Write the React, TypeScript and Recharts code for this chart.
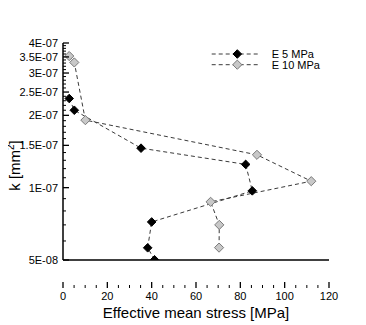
import React from 'react';
import { LineChart, Line, XAxis, YAxis, Legend } from 'recharts';

const seriesNames = ['E 5 MPa', 'E 10 MPa'];
const e5Stress = [2.8, 5.1, 35.2, 82.4, 85.4, 40.0, 38.2, 41.3];
const e5K = [2.35e-7, 2.1e-7, 1.46e-7, 1.25e-7, 9.7e-8, 7.2e-8, 5.62e-8, 5.01e-8];
const e10Stress = [2.8, 5.1, 10.1, 87.5, 112.0, 66.6, 70.5, 70.4];
const e10K = [3.53e-7, 3.32e-7, 1.91e-7, 1.37e-7, 1.064e-7, 8.73e-8, 7.0e-8, 5.63e-8];

const xMajorTicks = [0, 20, 40, 60, 80, 100, 120];
const xMinorTicks = [5, 10, 15, 25, 30, 35, 45, 50, 55, 65, 70, 75, 85, 90, 95, 105, 110, 115];
const yMajorTicks = [5e-8, 1e-7, 1.5e-7, 2e-7, 2.5e-7, 3e-7, 3.5e-7, 4e-7];
const yMajorLabels = ['5E-08', '1E-07', '1.5E-07', '2E-07', '2.5E-07', '3E-07', '3.5E-07', '4E-07'];
const yMinorTicks = [
  6e-8, 7e-8, 8e-8, 9e-8,
  1.1e-7, 1.2e-7, 1.3e-7, 1.4e-7,
  1.6e-7, 1.7e-7, 1.8e-7, 1.9e-7,
  2.1e-7, 2.2e-7, 2.3e-7, 2.4e-7,
  2.6e-7, 2.7e-7, 2.8e-7, 2.9e-7,
  3.1e-7, 3.2e-7, 3.3e-7, 3.4e-7,
  3.6e-7, 3.7e-7, 3.8e-7, 3.9e-7,
];

const e5Data = e5Stress.map((x, i) => ({ x, k: e5K[i] }));
const e10Data = e10Stress.map((x, i) => ({ x, k: e10K[i] }));

const W = 366;
const H = 325;
const MARGIN = { top: 43, right: 37, left: 0, bottom: 0 };
const Y_AXIS_W = 63;
const X_AXIS_H = 37;
const PLOT_LEFT = MARGIN.left + Y_AXIS_W;
const PLOT_BOTTOM = H - MARGIN.bottom - X_AXIS_H;
const PLOT_RIGHT = W - MARGIN.right;
const FONT = 'Liberation Sans, Arial, Helvetica, sans-serif';

const BLACK_FILL = '#000000';
const GRAY_FILL = '#c8c8c8';
const GRAY_STROKE = '#7a7a7a';
const LINE_COLOR = '#3a3a3a';

const diamond = (cx: number, cy: number, r: number, fill: string, stroke: string, key?: any) => (
  <polygon
    key={key}
    points={`${cx},${cy - r} ${cx + r},${cy} ${cx},${cy + r} ${cx - r},${cy}`}
    fill={fill}
    stroke={stroke}
    strokeWidth={1}
  />
);

const BlackDot = (props: any) => {
  const { cx, cy, index } = props;
  if (cx == null || cy == null) return null;
  return diamond(cx, cy, 4.3, BLACK_FILL, BLACK_FILL, `b${index}`);
};

const GrayDot = (props: any) => {
  const { cx, cy, index } = props;
  if (cx == null || cy == null) return null;
  return diamond(cx, cy, 4.6, GRAY_FILL, GRAY_STROKE, `g${index}`);
};

const YTick = (props: any) => {
  const { y, payload } = props;
  const idx = yMajorTicks.findIndex((t) => Math.abs(t - payload.value) / t < 1e-6);
  if (idx >= 0) {
    return (
      <g>
        <line x1={PLOT_LEFT} x2={PLOT_LEFT + 6} y1={y} y2={y} stroke="#000" strokeWidth={1.3} />
        <text x={PLOT_LEFT - 5} y={y + 4} textAnchor="end" fontSize={11} fontFamily={FONT} fill="#000">
          {yMajorLabels[idx]}
        </text>
      </g>
    );
  }
  return <line x1={PLOT_LEFT} x2={PLOT_LEFT + 3} y1={y} y2={y} stroke="#000" strokeWidth={1} />;
};

const XTick = (props: any) => {
  const { x, payload } = props;
  const isMajor = xMajorTicks.includes(payload.value);
  if (isMajor) {
    return (
      <g>
        <line x1={x} x2={x} y1={PLOT_BOTTOM} y2={PLOT_BOTTOM - 6} stroke="#000" strokeWidth={1.3} />
        <text x={x} y={PLOT_BOTTOM + 12} textAnchor="middle" fontSize={11} fontFamily={FONT} fill="#000">
          {payload.value}
        </text>
      </g>
    );
  }
  return <line x1={x} x2={x} y1={PLOT_BOTTOM} y2={PLOT_BOTTOM - 3} stroke="#000" strokeWidth={1} />;
};

const LegendContent = () => (
  <svg width={140} height={28} style={{ display: 'block' }}>
    <line x1={3.7} x2={52} y1={8} y2={8} stroke={LINE_COLOR} strokeDasharray="4 3" strokeWidth={1} />
    {diamond(29.3, 8, 4.3, BLACK_FILL, BLACK_FILL)}
    <text x={63.7} y={12} fontSize={11} fontFamily={FONT} fill="#000">{seriesNames[0]}</text>
    <line x1={3.7} x2={52} y1={18.7} y2={18.7} stroke={LINE_COLOR} strokeDasharray="4 3" strokeWidth={1} />
    {diamond(29.3, 18.7, 4.6, GRAY_FILL, GRAY_STROKE)}
    <text x={63.7} y={22.7} fontSize={11} fontFamily={FONT} fill="#000">{seriesNames[1]}</text>
  </svg>
);

const XLabel = () => (
  <text x={(PLOT_LEFT + PLOT_RIGHT) / 2} y={H - 7} textAnchor="middle" fontSize={15} fontFamily={FONT} fill="#000">
    Effective mean stress [MPa]
  </text>
);

const YLabel = () => {
  const cx = 20;
  const cy = (MARGIN.top + PLOT_BOTTOM) / 2;
  return (
    <text
      x={cx}
      y={cy}
      transform={`rotate(-90, ${cx}, ${cy})`}
      textAnchor="middle"
      fontSize={15}
      fontFamily={FONT}
      fill="#000"
    >
      k [mm
      <tspan fontSize={10} dy={-6}>2</tspan>
      <tspan dy={6}>]</tspan>
    </text>
  );
};

export default function App() {
  return (
    <div style={{ width: W, height: H, position: 'relative', left: -8, top: -8 }}>
      <LineChart width={W} height={H} margin={MARGIN}>
        <XAxis
          type="number"
          dataKey="x"
          domain={[0, 120]}
          ticks={[...xMajorTicks, ...xMinorTicks].sort((a, b) => a - b)}
          interval={0}
          tick={<XTick />}
          tickLine={false}
          tickSize={0}
          height={X_AXIS_H}
          axisLine={{ stroke: '#000', strokeWidth: 1.5 }}
          allowDataOverflow
          label={{ content: () => <XLabel /> }}
        />
        <YAxis
          type="number"
          dataKey="k"
          scale="log"
          domain={[5e-8, 4e-7]}
          ticks={[...yMajorTicks, ...yMinorTicks].sort((a, b) => a - b)}
          interval={0}
          tick={<YTick />}
          tickLine={false}
          tickSize={0}
          width={Y_AXIS_W}
          axisLine={{ stroke: '#000', strokeWidth: 1.5 }}
          allowDataOverflow
          label={{ content: () => <YLabel /> }}
        />
        <Legend
          content={<LegendContent />}
          wrapperStyle={{ position: 'absolute', left: 208, top: 46, width: 140, height: 28 }}
        />
        <Line
          data={e5Data}
          dataKey="k"
          name={seriesNames[0]}
          stroke={LINE_COLOR}
          strokeWidth={1}
          strokeDasharray="4 3"
          dot={<BlackDot />}
          activeDot={false}
          isAnimationActive={false}
        />
        <Line
          data={e10Data}
          dataKey="k"
          name={seriesNames[1]}
          stroke={LINE_COLOR}
          strokeWidth={1}
          strokeDasharray="4 3"
          dot={<GrayDot />}
          activeDot={false}
          isAnimationActive={false}
        />
      </LineChart>
    </div>
  );
}
